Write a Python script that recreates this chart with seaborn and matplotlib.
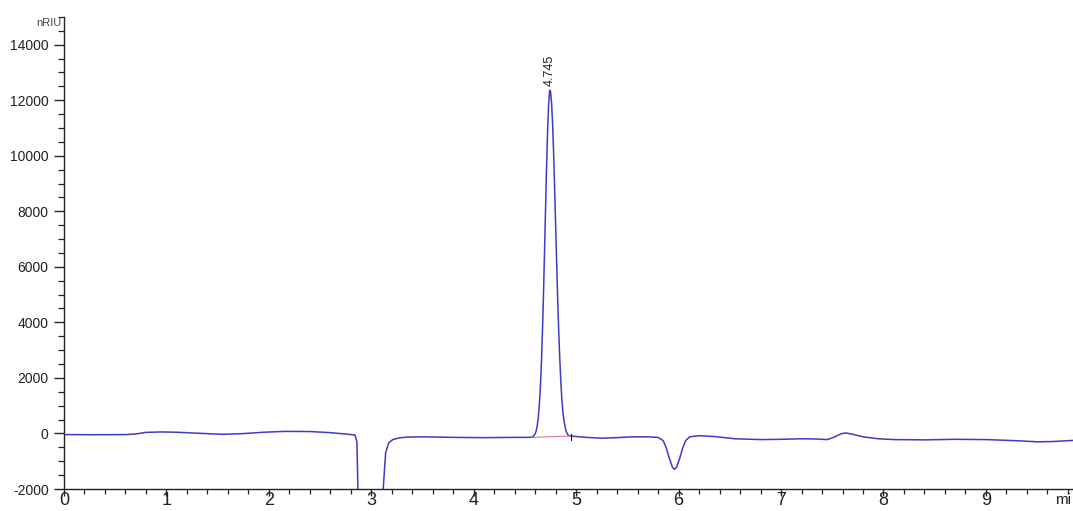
import matplotlib
matplotlib.use("Agg")
import matplotlib.pyplot as plt
import seaborn as sns
import pandas as pd
from matplotlib.ticker import MultipleLocator

# Retention time (min) and detector signal (nRIU)
time_min = [
    0.00, 0.30, 0.60, 0.70, 0.80, 0.95, 1.10, 1.30, 1.55, 1.75, 1.95, 2.15,
    2.40, 2.60, 2.75, 2.84, 2.86, 2.875, 3.10, 3.12, 3.14, 3.17, 3.21, 3.27,
    3.35, 3.50, 3.80, 4.10, 4.40, 4.55, 4.58, 4.60, 4.61, 4.62, 4.63, 4.64,
    4.65, 4.66, 4.67, 4.68, 4.69, 4.70, 4.71, 4.72, 4.73, 4.74, 4.745, 4.75,
    4.76, 4.77, 4.78, 4.79, 4.80, 4.81, 4.82, 4.83, 4.84, 4.85, 4.86, 4.87,
    4.88, 4.90, 4.92, 4.95, 5.00, 5.10, 5.25, 5.40, 5.55, 5.70, 5.80, 5.85,
    5.88, 5.91, 5.94, 5.96, 5.98, 6.01, 6.04, 6.07, 6.11, 6.20, 6.35, 6.55,
    6.80, 7.00, 7.20, 7.35, 7.45, 7.52, 7.58, 7.63, 7.70, 7.80, 7.95, 8.10,
    8.40, 8.70, 9.00, 9.30, 9.50, 9.65, 9.85,
]
signal_nriu = [
    -40, -45, -40, -20, 40, 55, 45, 10, -30, -5, 45, 75,
    70, 30, -20, -55, -300, -3000, -3000, -1800, -700, -340, -220, -160,
    -130, -120, -140, -150, -140, -140, -120, -10, 100, 280, 570, 1000,
    1620, 2470, 3550, 4860, 6350, 7900, 9450, 10750, 11750, 12300, 12360, 12300,
    11900, 11150, 10100, 8800, 7450, 6100, 4800, 3650, 2700, 1900, 1250, 800,
    480, 100, -60, -90, -110, -140, -170, -150, -120, -120, -140, -260,
    -520, -900, -1220, -1290, -1220, -900, -520, -250, -120, -80, -110, -190,
    -220, -210, -190, -200, -220, -130, -20, 20, -30, -120, -190, -220,
    -230, -210, -220, -260, -300, -290, -250,
]

# Integration baseline under the main peak
base_time = [4.58, 4.95]
base_signal = [-140, -90]

peak_time = 4.745
peak_height = 12360
peak_label = "4.745"

y_ticks = [-2000, 0, 2000, 4000, 6000, 8000, 10000, 12000, 14000]
x_ticks = [0, 1, 2, 3, 4, 5, 6, 7, 8, 9]

sns.set_style("ticks")
plt.rcParams["font.family"] = ["Liberation Sans", "DejaVu Sans"]
plt.rcParams["axes.unicode_minus"] = False

df = pd.DataFrame({"time": time_min, "signal": signal_nriu})

fig = plt.figure(figsize=(10.73, 5.11), dpi=100)
ax = fig.add_axes([0.0596, 0.043, 0.9404, 0.924])

sns.lineplot(data=df, x="time", y="signal", ax=ax, color="#3c3cc8",
             linewidth=1.1, estimator=None, sort=False)
sns.lineplot(x=base_time, y=base_signal, ax=ax, color="#e07890",
             linewidth=0.8, estimator=None, sort=False)
ax.plot([base_time[1], base_time[1]], [base_signal[1] + 60, base_signal[1] - 150],
        color="black", linewidth=0.8)

ax.text(peak_time, peak_height + 150, peak_label, rotation=90, ha="center",
        va="bottom", fontsize=9, color="#222222")

ax.set_xlim(0, 9.85)
ax.set_ylim(-2000, 15000)
ax.set_xticks(x_ticks)
ax.set_yticks(y_ticks)
ax.xaxis.set_minor_locator(MultipleLocator(0.2))
ax.yaxis.set_minor_locator(MultipleLocator(500))
ax.set_xlabel("")
ax.set_ylabel("")

for s in ["top", "right"]:
    ax.spines[s].set_visible(False)
for s in ["left", "bottom"]:
    ax.spines[s].set_color("#222222")
    ax.spines[s].set_linewidth(1.0)

ax.tick_params(axis="y", which="major", length=7, width=1.0, labelsize=10,
               pad=4, colors="#222222")
ax.tick_params(axis="y", which="minor", length=4, width=0.9, colors="#222222")
ax.tick_params(axis="x", which="major", length=5, width=1.0, labelsize=13,
               pad=-3, colors="#222222")
ax.tick_params(axis="x", which="minor", length=3.5, width=0.9, colors="#222222")

fig.text(0.0575, 0.955, "nRIU", ha="right", va="center", fontsize=8,
         color="#444444")
fig.text(0.998, 0.022, "mi", ha="right", va="center", fontsize=11,
         color="#222222")

fig.savefig("out.png", dpi=100)
